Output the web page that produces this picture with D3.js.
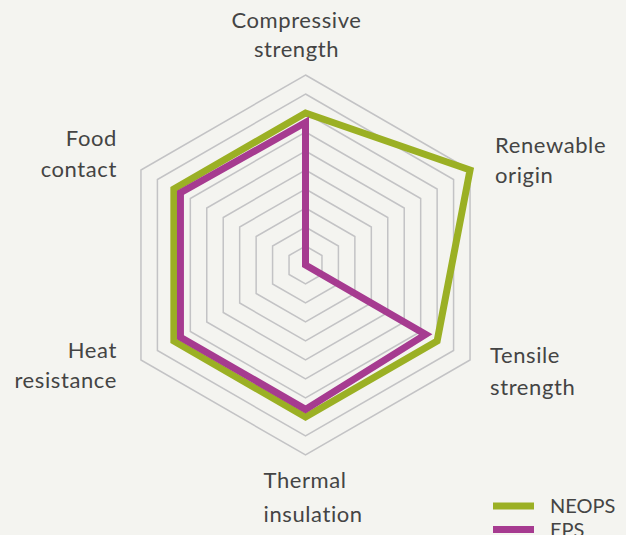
<!DOCTYPE html>
<html>
<head>
<meta charset="utf-8">
<title>NEOPS vs EPS</title>
<style>
  html, body { margin: 0; padding: 0; background: #f4f4f0; }
  svg { display: block; }
  text { font-family: Lato, "Open Sans", sans-serif; fill: #444; }
</style>
</head>
<body>
<script src="https://d3js.org/d3.v7.min.js"></script>
<script>
// axes, clockwise from the top
var axes = ["Compressive strength", "Renewable origin", "Tensile strength",
            "Thermal insulation", "Heat resistance", "Food contact"];
var neops = [8, 10, 8, 8, 8, 8];
var eps = [7.5, 0, 7.3, 7.6, 7.6, 7.6];
var levels = [1, 2, 3, 4, 5, 6, 7, 8, 9, 10];
var seriesNames = ["NEOPS", "EPS"];

var width = 626, height = 535;
var cx = 305.5, cy = 265, R = 190;

var svg = d3.select("body").append("svg")
    .attr("width", width)
    .attr("height", height);

svg.append("rect").attr("width", width).attr("height", height).attr("fill", "#f4f4f0");

var r = d3.scaleLinear().domain([0, 10]).range([0, R]);
var angle = d3.scalePoint().domain(d3.range(axes.length + 1)).range([0, 2 * Math.PI]);

var g = svg.append("g").attr("transform", "translate(" + cx + "," + cy + ")");

var radial = d3.lineRadial()
    .angle(function(d, i) { return angle(i); })
    .radius(function(d) { return r(d); })
    .curve(d3.curveLinearClosed);

// grid rings
g.selectAll(".ring").data(levels).enter().append("path")
    .attr("class", "ring")
    .attr("d", function(l) { return radial(axes.map(function() { return l; })); })
    .attr("fill", "none")
    .attr("stroke", "#c3c3c5")
    .attr("stroke-width", 1.5);

var colors = { NEOPS: "#9bb024", EPS: "#a63b90" };
var series = [{ name: "NEOPS", values: neops }, { name: "EPS", values: eps }];

g.selectAll(".series").data(series).enter().append("path")
    .attr("class", "series")
    .attr("d", function(s) { return radial(s.values); })
    .attr("fill", "none")
    .attr("stroke", function(s) { return colors[s.name]; })
    .attr("stroke-width", 7)
    .attr("stroke-linejoin", "miter")
    .attr("stroke-miterlimit", 10);

// axis labels (placement tweaks per side)
var labelSpec = [
    { anchor: "middle", dx: -9, dy: -237, lh: 28.5 },
    { anchor: "start", dx: 25, dy: -17, lh: 30 },
    { anchor: "start", dx: 20, dy: 3, lh: 32 },
    { anchor: "start", dx: -42, dy: 33, lh: 34 },
    { anchor: "end", dx: -24, dy: -2, lh: 30 },
    { anchor: "end", dx: -24, dy: -24, lh: 31 }
];

axes.forEach(function(name, i) {
    var a = angle(i);
    var spec = labelSpec[i];
    var x = i === 0 ? 0 : r(10) * Math.sin(a);
    var y = i === 0 ? 0 : -r(10) * Math.cos(a);
    var words = name.split(" ");
    var t = g.append("text")
        .attr("text-anchor", spec.anchor)
        .attr("font-size", 22)
        .attr("letter-spacing", 0.6);
    words.forEach(function(w, k) {
        t.append("tspan")
            .attr("x", x + spec.dx)
            .attr("y", y + spec.dy + k * spec.lh)
            .text(w);
    });
});

// legend
var legend = svg.append("g").attr("transform", "translate(493,506)");
seriesNames.forEach(function(n, i) {
    var row = legend.append("g").attr("transform", "translate(0," + (i * 23.5) + ")");
    row.append("line")
        .attr("x1", 0).attr("x2", 41)
        .attr("stroke", colors[n])
        .attr("stroke-width", 7);
    row.append("text")
        .attr("x", 57).attr("y", 7)
        .attr("font-size", 20)
        .text(n);
});
</script>
</body>
</html>
